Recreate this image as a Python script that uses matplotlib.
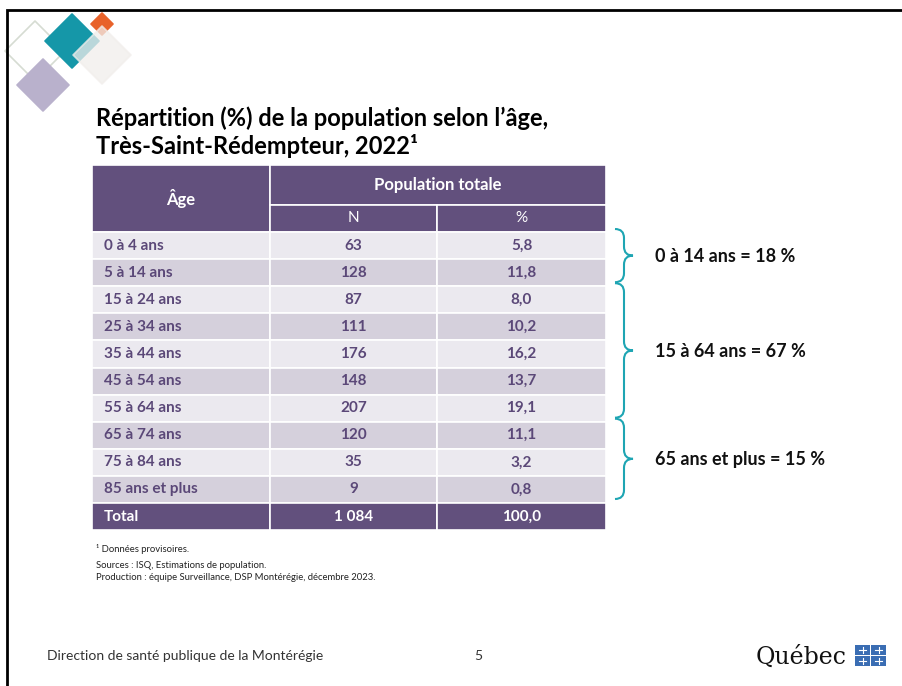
import matplotlib
matplotlib.use("Agg")
import matplotlib.pyplot as plt
from matplotlib.patches import Rectangle, Polygon, PathPatch
from matplotlib.path import Path

plt.rcParams['font.family'] = ['Lato', 'DejaVu Sans']

# table data
ages = ["0 à 4 ans", "5 à 14 ans", "15 à 24 ans", "25 à 34 ans", "35 à 44 ans",
        "45 à 54 ans", "55 à 64 ans", "65 à 74 ans", "75 à 84 ans", "85 ans et plus"]
counts = ["63", "128", "87", "111", "176", "148", "207", "120", "35", "9"]
pcts = ["5,8", "11,8", "8,0", "10,2", "16,2", "13,7", "19,1", "11,1", "3,2", "0,8"]
total = ["Total", "1 084", "100,0"]

# age groups: label, first row, last row
groups = [("0 à 14 ans = 18 %", 0, 1),
          ("15 à 64 ans = 67 %", 2, 6),
          ("65 ans et plus = 15 %", 7, 9)]

title1 = "Répartition (%) de la population selon l’âge,"
title2 = "Très-Saint-Rédempteur, 2022¹"
notes = ["¹ Données provisoires.",
         "Sources : ISQ, Estimations de population.",
         "Production : équipe Surveillance, DSP Montérégie, décembre 2023."]

PURPLE = "#62507d"
TXT = "#5b4878"
LIGHT = "#ebe9ef"
DARK = "#d5d0dc"
TEAL = "#1ea5b3"

fig = plt.figure(figsize=(9.02, 6.86), dpi=100)
ax = fig.add_axes([0, 0, 1, 1])
ax.set_xlim(0, 902)
ax.set_ylim(686, 0)
ax.axis("off")

# slide border
ax.plot([7, 7, 902], [686, 10, 10], color="black", lw=2, solid_joinstyle="miter")

# decorative diamonds
def diamond(cx, cy, r, color, alpha=1.0, fill=True, z=1):
    pts = [(cx, cy - r), (cx + r, cy), (cx, cy + r), (cx - r, cy)]
    p = Polygon(pts, closed=True, facecolor=color if fill else "none",
                edgecolor=color, alpha=alpha, lw=1.2, joinstyle="round", zorder=z)
    ax.add_patch(p)

diamond(35, 51, 30, "#d6dcd2", fill=False, z=1)
diamond(43, 85, 26, "#b9b1cc", z=2)
diamond(72, 41, 27, "#1597a8", z=3)
diamond(102, 24, 11, "#e8622a", z=3)
diamond(102, 55, 29, "#f1eeeb", alpha=0.75, z=4)

# title
ax.text(96, 118, title1, fontsize=17, fontweight="bold", color="black",
        va="center", ha="left")
ax.text(96, 146, title2, fontsize=17, fontweight="bold", color="black",
        va="center", ha="left")

# table geometry
col_x = [92, 270, 437, 606]
top = 165
h1 = 40
h2 = 27
row_h = 27.1
y_data = top + h1 + h2
n = len(ages)
fs = 11

def cell(x0, x1, y0, h, color):
    ax.add_patch(Rectangle((x0, y0), x1 - x0, h, facecolor=color,
                           edgecolor="white", lw=1.2, zorder=5))

# header
cell(col_x[0], col_x[1], top, h1 + h2, PURPLE)
cell(col_x[1], col_x[3], top, h1, PURPLE)
cell(col_x[1], col_x[2], top + h1, h2, PURPLE)
cell(col_x[2], col_x[3], top + h1, h2, PURPLE)
ax.text((col_x[0] + col_x[1]) / 2, top + (h1 + h2) / 2, "Âge", color="white",
        fontsize=12, fontweight="bold", ha="center", va="center", zorder=6)
ax.text((col_x[1] + col_x[3]) / 2, top + h1 / 2, "Population totale", color="white",
        fontsize=12, fontweight="bold", ha="center", va="center", zorder=6)
ax.text((col_x[1] + col_x[2]) / 2, top + h1 + h2 / 2, "N", color="white",
        fontsize=fs, ha="center", va="center", zorder=6)
ax.text((col_x[2] + col_x[3]) / 2, top + h1 + h2 / 2, "%", color="white",
        fontsize=fs, ha="center", va="center", zorder=6)

# body rows
for i in range(n):
    y0 = y_data + i * row_h
    color = LIGHT if i % 2 == 0 else DARK
    for c in range(3):
        cell(col_x[c], col_x[c + 1], y0, row_h, color)
    yc = y0 + row_h / 2
    ax.text(col_x[0] + 12, yc, ages[i], color=TXT, fontsize=fs,
            fontweight="bold", ha="left", va="center", zorder=6)
    ax.text((col_x[1] + col_x[2]) / 2, yc, counts[i], color=TXT, fontsize=fs,
            fontweight="bold", ha="center", va="center", zorder=6)
    ax.text((col_x[2] + col_x[3]) / 2, yc, pcts[i], color=TXT, fontsize=fs,
            fontweight="bold", ha="center", va="center", zorder=6)

# total row
y0 = y_data + n * row_h
for c in range(3):
    cell(col_x[c], col_x[c + 1], y0, row_h, PURPLE)
yc = y0 + row_h / 2
ax.text(col_x[0] + 12, yc, total[0], color="white", fontsize=fs,
        fontweight="bold", ha="left", va="center", zorder=6)
ax.text((col_x[1] + col_x[2]) / 2, yc, total[1], color="white", fontsize=fs,
        fontweight="bold", ha="center", va="center", zorder=6)
ax.text((col_x[2] + col_x[3]) / 2, yc, total[2], color="white", fontsize=fs,
        fontweight="bold", ha="center", va="center", zorder=6)

# braces for age groups
def brace(yt, yb, x0=615, xm=624, xt=633, r=9):
    ym = (yt + yb) / 2
    verts = [(x0, yt), (xm, yt), (xm, yt + r),
             (xm, ym - r), (xm, ym), (xt, ym),
             (xm, ym), (xm, ym + r),
             (xm, yb - r), (xm, yb), (x0, yb)]
    codes = [Path.MOVETO, Path.CURVE3, Path.CURVE3,
             Path.LINETO, Path.CURVE3, Path.CURVE3,
             Path.CURVE3, Path.CURVE3,
             Path.LINETO, Path.CURVE3, Path.CURVE3]
    ax.add_patch(PathPatch(Path(verts, codes), facecolor="none",
                           edgecolor=TEAL, lw=1.5, zorder=6))
    return ym

for label, r0, r1 in groups:
    yt = y_data + r0 * row_h - 3
    yb = y_data + (r1 + 1) * row_h - 4
    ym = brace(yt, yb)
    ax.text(655, ym + 1, label, fontsize=13, fontweight="bold", color="#111111",
            ha="left", va="center")

# footnotes
for y, note in zip([549, 565, 577], notes):
    ax.text(96, y, note, fontsize=6.8, color="#222222", va="center")

# footer
ax.text(47, 656, "Direction de santé publique de la Montérégie", fontsize=10,
        color="#333333", va="center")
ax.text(474, 656, "5", fontsize=10, color="#333333", va="center")
ax.text(756, 657, "Québec", fontsize=17, color="#111111", va="center",
        family="DejaVu Serif")
for dx in (0, 16):
    for dy in (0, 11):
        ax.add_patch(Rectangle((855 + dx, 645 + dy), 15, 10,
                               facecolor="#3a6db3", edgecolor="none"))
        ax.plot([855 + dx + 7.5] * 2, [645 + dy + 2, 645 + dy + 8],
                color="white", lw=0.8)
        ax.plot([855 + dx + 4, 855 + dx + 11], [645 + dy + 5] * 2,
                color="white", lw=0.8)

fig.savefig("out.png", dpi=100)
